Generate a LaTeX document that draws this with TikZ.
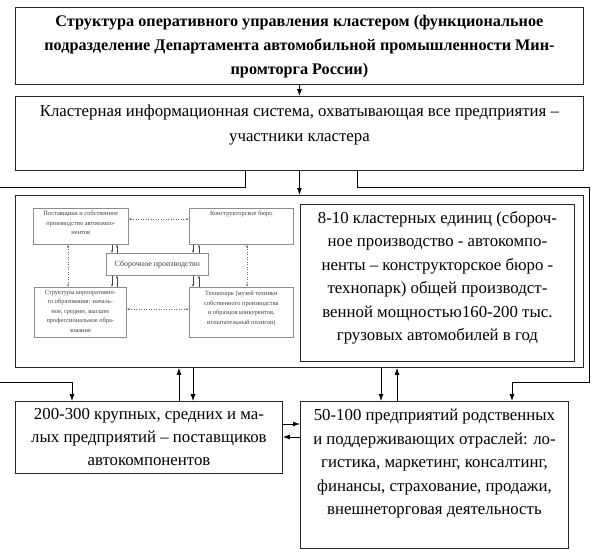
\documentclass[tikz,border=0pt]{standalone}
\usepackage{fontspec}
\setmainfont{Liberation Serif}
\usetikzlibrary{arrows.meta,calc}
\begin{document}
\begin{tikzpicture}[x=1pt,y=-1pt,
  box/.style={draw=black!85, line width=0.9pt, inner sep=0pt, anchor=north west},
  txt/.style={inner sep=0pt, align=center, font=\fontsize{16.8}{24}\selectfont, anchor=north},
  sbox/.style={draw=black!45, line width=0.6pt, inner sep=0pt, anchor=north west},
  stxt/.style={inner sep=0pt, align=center, font=\fontsize{6.4}{9.5}\selectfont, anchor=north, text=black!75},
  arr/.style={-{Latex[length=7pt,width=5pt]}, line width=0.8pt},
  sarr/.style={-{Latex[length=2.5pt,width=2pt]}, line width=0.4pt, draw=black!75},
  darr/.style={{Latex[length=2.5pt,width=2pt]}-{Latex[length=2.5pt,width=2pt]}, line width=0.5pt, dotted, draw=black!60}
]
\useasboundingbox (0,0) rectangle (597,555);
\fill[white] (0,0) rectangle (597,555);

% main boxes
\node[box, minimum width=568pt, minimum height=77pt] (b1) at (15,7) {};
\node[txt, font=\bfseries\fontsize{16.2}{24}\selectfont] (t1) at ([yshift=-8pt]b1.north) {Структура оперативного управления кластером (функциональное\\подразделение Департамента автомобильной промышленности Мин-\\промторга России)};

\node[box, minimum width=568pt, minimum height=74pt] (b2) at (15,96) {};
\node[txt, font=\fontsize{16.8}{25}\selectfont] (t2) at ([yshift=-9pt]b2.north) {Кластерная информационная система, охватывающая все предприятия –\\участники кластера};

\node[box, minimum width=568pt, minimum height=172pt] (b3) at (15,195) {};
\node[box, minimum width=274pt, minimum height=157pt] (b3t) at (300,204) {};
\node[txt, font=\fontsize{16.8}{23.5}\selectfont] (t3) at ([yshift=-7pt]b3t.north) {8-10 кластерных единиц (сбороч-\\ное производство - автокомпо-\\ненты – конструкторское бюро -\\технопарк) общей производст-\\венной мощностью160-200 тыс.\\грузовых автомобилей в год};

\node[box, minimum width=267pt, minimum height=72pt] (b4) at (15,401) {};
\node[txt, font=\fontsize{16.8}{23}\selectfont] (t4) at ([yshift=-7pt]b4.north) {200-300 крупных, средних и ма-\\лых предприятий – поставщиков\\автокомпонентов};

\node[box, minimum width=268pt, minimum height=147pt] (b5) at (300,401) {};
\node[txt, font=\fontsize{16.8}{23.5}\selectfont] (t5) at ([yshift=-8pt]b5.north) {50-100 предприятий родственных\\и поддерживающих отраслей: ло-\\гистика, маркетинг, консалтинг,\\финансы, страхование, продажи,\\внешнеторговая деятельность};

% small diagram
\node[sbox, minimum width=95pt, minimum height=36pt] (sa) at (33,208) {};
\node[stxt] at ([yshift=-3pt]sa.north) {Поставщики и собственное\\производство автокомпо-\\нентов};
\node[sbox, minimum width=104pt, minimum height=36pt] (sb) at (189,208) {};
\node[stxt] at ([yshift=-3pt]sb.north) {Конструкторское бюро};
\node[sbox, minimum width=102pt, minimum height=22pt, font=\fontsize{8}{9}\selectfont, text=black!75] (sc) at (106,253) {Сборочное производство};
\node[sbox, minimum width=92pt, minimum height=50pt] (sd) at (34,287) {};
\node[stxt] at ([yshift=-3pt]sd.north) {Структуры корпоративно-\\го образования: началь-\\ное, среднее, высшее\\профессиональное обра-\\зование};
\node[sbox, minimum width=104pt, minimum height=50pt] (se) at (189,287) {};
\node[stxt] at ([yshift=-4pt]se.north) {Технопарк (музей техники\\собственного производства\\и образцов конкурентов,\\испытательный полигон)};

% dotted links
\draw[darr] (sa.east |- 0,219) -- (sb.west |- 0,219);
\draw[darr] (sd.east |- 0,309) -- (se.west |- 0,309);
\draw[darr] (68,0 |- sa.south) -- (68,0 |- sd.north);
\draw[darr] (247,0 |- sb.south) -- (247,0 |- se.north);
% small solid pairs
\draw[sarr] (112,0 |- sa.south) -- (112,0 |- sc.north);
\draw[sarr] (117,0 |- sc.north) -- (117,0 |- sa.south);
\draw[sarr] (193,0 |- sb.south) -- (193,0 |- sc.north);
\draw[sarr] (199,0 |- sc.north) -- (199,0 |- sb.south);
\draw[sarr] (112,0 |- sc.south) -- (112,0 |- sd.north);
\draw[sarr] (117,0 |- sd.north) -- (117,0 |- sc.south);
\draw[sarr] (193,0 |- sc.south) -- (193,0 |- se.north);
\draw[sarr] (199,0 |- se.north) -- (199,0 |- sc.south);

% main connectors
\coordinate (L1) at (0,187);
\coordinate (L2) at (0,382);
\coordinate (R1) at (589,187);
\coordinate (R2) at (589,382);
\draw[arr] (b1.south) -- (b2.north);
\draw[arr] (b2.south) -- (b3.north);
\draw[line width=0.8pt] (245,0 |- b2.south) |- (L1);
\draw[arr] (357,0 |- b2.south) |- (R1) -- (R2) -| (512,0 |- b5.north);
\draw[arr] (L2) -| (72,0 |- b4.north);
\draw[arr] (179,0 |- b4.north) -- (179,0 |- b3.south);
\draw[arr] (193,0 |- b3.south) -- (193,0 |- b4.north);
\draw[arr] (381,0 |- b3.south) -- (381,0 |- b5.north);
\draw[arr] (397,0 |- b5.north) -- (397,0 |- b3.south);
\draw[arr] (b4.east |- 0,424) -- (b5.west |- 0,424);
\draw[arr] (b5.west |- 0,437) -- (b4.east |- 0,437);
\end{tikzpicture}
\end{document}
